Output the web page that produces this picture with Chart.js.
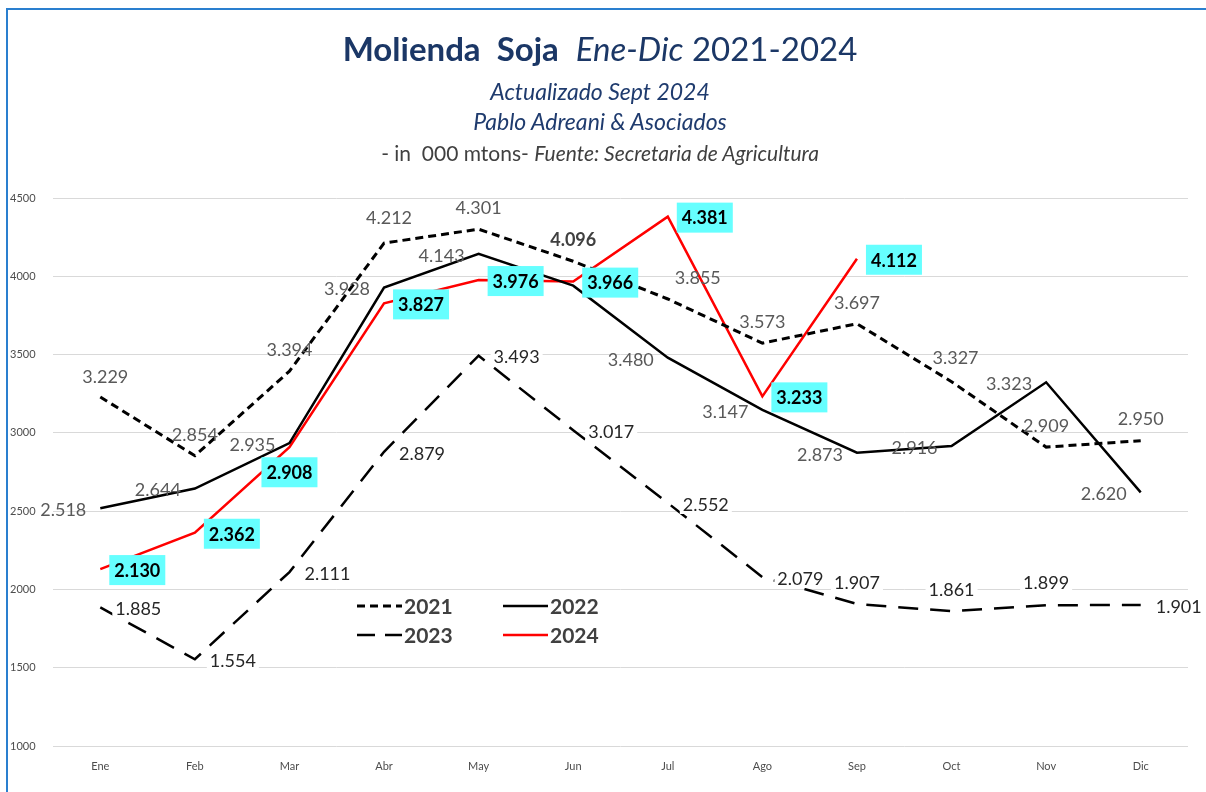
<!DOCTYPE html>
<html>
<head>
<meta charset="utf-8">
<script src="https://cdn.jsdelivr.net/npm/chart.js@4"></script>
<style>
  html,body{margin:0;padding:0;background:#fff;}
  #wrap{position:relative;width:1206px;height:792px;overflow:hidden;font-family:Lato,'Open Sans',sans-serif;}
  #frame{position:absolute;left:6px;top:8px;right:-4px;bottom:-4px;border-top:2px solid #2a7fcf;border-left:2px solid #2a7fcf;}
  .t{position:absolute;left:0;width:1200px;text-align:center;white-space:pre;}
  #t1{top:28px;font-size:33px;color:#1b3766;}
  #t1 b{font-weight:700;}
  #t2{top:77px;font-size:23px;font-style:italic;color:#1f3b6e;}
  #t3{top:107px;font-size:23px;font-style:italic;color:#1f3b6e;}
  #t4{top:140px;font-size:21px;color:#404040;}
  canvas{position:absolute;left:0;top:0;}
</style>
</head>
<body>
<div id="wrap">
  <div id="frame"></div>
  <canvas id="c" width="1206" height="792"></canvas>
  <div class="t" id="t1"><b>Molienda  Soja</b>  <i>Ene-Dic</i> 2021-2024</div>
  <div class="t" id="t2">Actualizado Sept 2024</div>
  <div class="t" id="t3">Pablo Adreani &amp; Asociados</div>
  <div class="t" id="t4">- in  000 mtons- <i>Fuente: Secretaria de Agricultura</i></div>
</div>
<script>
// --- datos (000 t) ---
const meses=['Ene','Feb','Mar','Abr','May','Jun','Jul','Ago','Sep','Oct','Nov','Dic'];
const y2021=[3229,2854,3394,4212,4301,4096,3855,3573,3697,3327,2909,2950];
const y2022=[2518,2644,2935,3928,4143,3940,3480,3147,2873,2916,3323,2620];
const y2023=[1885,1554,2111,2879,3493,3017,2552,2079,1907,1861,1899,1901];
const y2024=[2130,2362,2908,3827,3976,3966,4381,3233,4112,null,null,null];
const yTicks=[1000,1500,2000,2500,3000,3500,4000,4500];

const fmt=v=>(v/1000).toFixed(3);

// estilos de etiqueta por serie: desplazamiento base y excepciones por índice
const LBL=[
  {off:[0,-22],color:'#595959',font:'18px Lato',bg:null,
   ex:{0:[5,-21],3:[5,-26],6:[30,-22],9:[4,-24]},bold:{5:true}},
  {off:[-37,1],color:'#595959',font:'18px Lato',bg:null,ex:{},skip:{5:true}},
  {off:[38,1],color:'#262626',font:'18px Lato',bg:'#ffffff',
   ex:{8:[0,-22],9:[0,-22],10:[0,-23]}},
  {off:[37,1],color:'#000000',font:'bold 18px Lato',bg:'#66ffff',box:true,
   ex:{2:[0,25]}},
];

const labelsPlugin={
  id:'vals',
  afterDatasetsDraw(chart){
    const ctx=chart.ctx;
    chart.data.datasets.forEach((ds,di)=>{
      const cfg=LBL[di], meta=chart.getDatasetMeta(di);
      meta.data.forEach((pt,i)=>{
        const v=ds.data[i];
        if(v==null||(cfg.skip&&cfg.skip[i])) return;
        const o=cfg.ex[i]||cfg.off;
        const x=pt.x+o[0], y=pt.y+o[1];
        const txt=fmt(v);
        ctx.save();
        ctx.font=(cfg.bold&&cfg.bold[i])?'bold 18px Lato':cfg.font;
        ctx.textAlign='center'; ctx.textBaseline='middle';
        const w=ctx.measureText(txt).width;
        if(cfg.box){
          ctx.fillStyle=cfg.bg; ctx.fillRect(x-28,y-15,56,30);
        } else if(cfg.bg){
          ctx.fillStyle=cfg.bg; ctx.fillRect(x-w/2-3,y-10,w+6,20);
        }
        ctx.fillStyle=(cfg.bold&&cfg.bold[i])?'#404040':cfg.color;
        ctx.fillText(txt,x,y+1);
        ctx.restore();
      });
    });
  }
};

const legendPlugin={
  id:'leyenda',
  afterDraw(chart){
    const ctx=chart.ctx;
    const spots=[[357,606],[503,606],[357,635],[503,635]];
    chart.data.datasets.forEach((ds,di)=>{
      const [x,y]=spots[di];
      ctx.save();
      ctx.strokeStyle=ds.borderColor; ctx.lineWidth=ds.borderWidth;
      ctx.setLineDash(di===2?[18,10]:(ds.borderDash||[]));
      ctx.beginPath(); ctx.moveTo(x,y); ctx.lineTo(x+45,y); ctx.stroke();
      ctx.setLineDash([]);
      ctx.fillStyle='#404040'; ctx.font='bold 21px Lato';
      ctx.textAlign='left'; ctx.textBaseline='middle';
      ctx.fillText(ds.label,x+47,y+1);
      ctx.restore();
    });
  }
};

new Chart(document.getElementById('c'),{
  type:'line',
  data:{labels:meses,datasets:[
    {label:'2021',data:y2021,borderColor:'#000',borderWidth:3,borderDash:[8,5]},
    {label:'2022',data:y2022,borderColor:'#000',borderWidth:2.5},
    {label:'2023',data:y2023,borderColor:'#000',borderWidth:2.5,borderDash:[20,12]},
    {label:'2024',data:y2024,borderColor:'#ff0000',borderWidth:2.5},
  ]},
  options:{
    responsive:false,animation:false,
    layout:{padding:{left:10,right:18,top:198,bottom:0}},
    elements:{point:{radius:0},line:{tension:0,borderCapStyle:'butt'}},
    plugins:{legend:{display:false},tooltip:{enabled:false},title:{display:false}},
    scales:{
      x:{offset:true,grid:{display:false,drawTicks:false,offset:true},border:{display:false},
         ticks:{padding:14,color:'#4d4d4d',font:{family:'Lato',size:11}},
         afterFit:s=>{s.height=46;}},
      y:{min:1000,max:4500,
         grid:{color:'#d9d9d9',lineWidth:1,drawTicks:false},border:{display:false},
         afterBuildTicks:s=>{s.ticks=yTicks.map(v=>({value:v}));},
         ticks:{crossAlign:'far',padding:0,color:'#4d4d4d',font:{family:'Lato',size:11},
                callback:v=>String(v)},
         afterFit:s=>{s.width=43;}}
    }
  },
  plugins:[labelsPlugin,legendPlugin]
});
</script>
</body>
</html>
